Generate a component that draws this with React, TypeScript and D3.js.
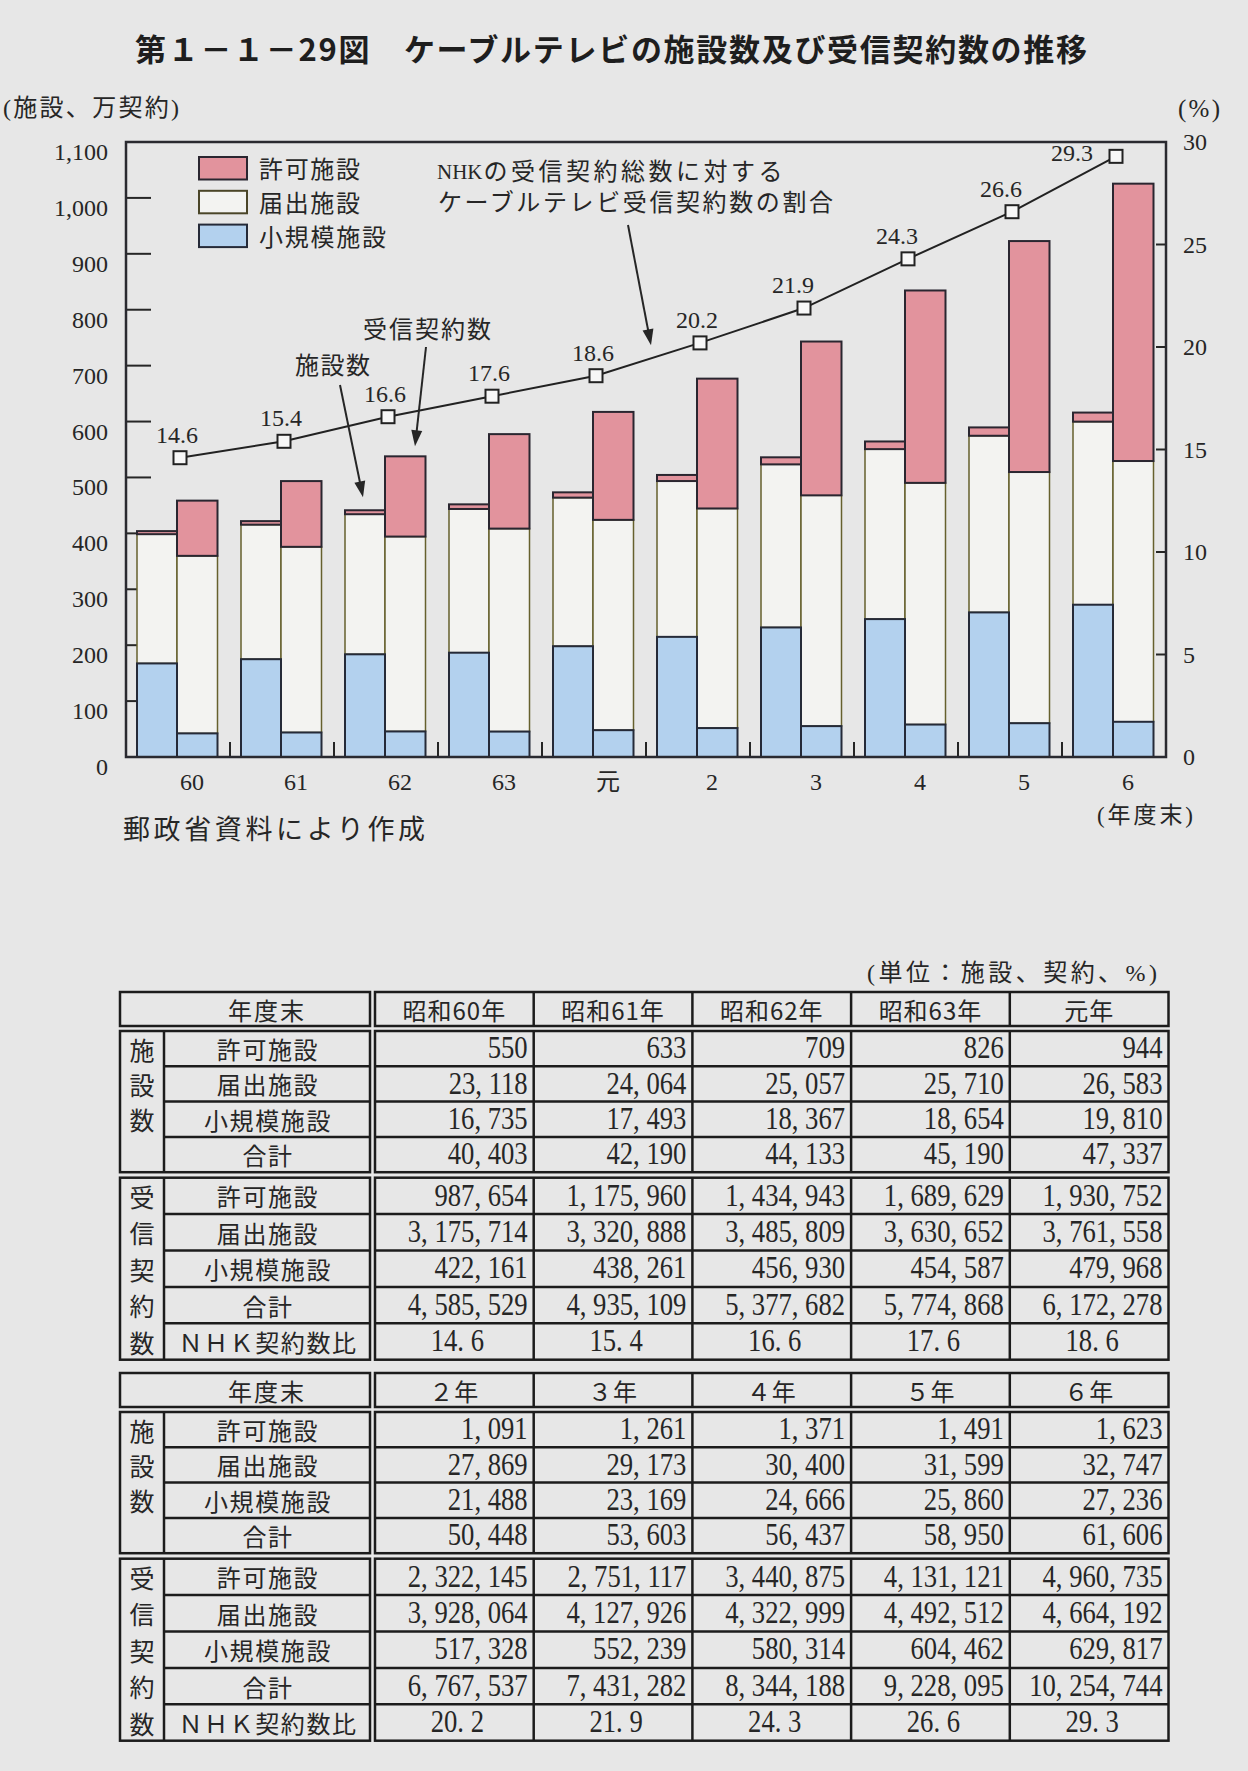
import React from "react";
import * as d3 from "d3";

// ---------- data ----------
const years = ["60", "61", "62", "63", "元", "2", "3", "4", "5", "6"];
const headers = ["昭和60年", "昭和61年", "昭和62年", "昭和63年", "元年", "２年", "３年", "４年", "５年", "６年"];

// 施設数
const facPermit = [550, 633, 709, 826, 944, 1091, 1261, 1371, 1491, 1623];
const facNotified = [23118, 24064, 25057, 25710, 26583, 27869, 29173, 30400, 31599, 32747];
const facSmall = [16735, 17493, 18367, 18654, 19810, 21488, 23169, 24666, 25860, 27236];
const facTotal = [40403, 42190, 44133, 45190, 47337, 50448, 53603, 56437, 58950, 61606];

// 受信契約数
const conPermit = [987654, 1175960, 1434943, 1689629, 1930752, 2322145, 2751117, 3440875, 4131121, 4960735];
const conNotified = [3175714, 3320888, 3485809, 3630652, 3761558, 3928064, 4127926, 4322999, 4492512, 4664192];
const conSmall = [422161, 438261, 456930, 454587, 479968, 517328, 552239, 580314, 604462, 629817];
const conTotal = [4585529, 4935109, 5377682, 5774868, 6172278, 6767537, 7431282, 8344188, 9228095, 10254744];

// NHK契約数比 (%)
const ratio = [14.6, 15.4, 16.6, 17.6, 18.6, 20.2, 21.9, 24.3, 26.6, 29.3];

const leftTicks = [0, 100, 200, 300, 400, 500, 600, 700, 800, 900, 1000, 1100];
const rightTicks = [0, 5, 10, 15, 20, 25, 30];
const seriesKeys = ["small", "notified", "permit"];
const seriesNames: Record<string, string> = { permit: "許可施設", notified: "届出施設", small: "小規模施設" };
const legendOrder = ["permit", "notified", "small"];
const facRowLabels = ["許可施設", "届出施設", "小規模施設", "合計"];
const conRowLabels = ["許可施設", "届出施設", "小規模施設", "合計", "ＮＨＫ契約数比"];
const facGroupChars = ["施", "設", "数"];
const conGroupChars = ["受", "信", "契", "約", "数"];

// ---------- style ----------
const W = 1248;
const H = 1771;
const BG = "#e7e7e7";
const INK = "#262626";
const FILL: Record<string, string> = { permit: "#e2939d", notified: "#f3f3f1", small: "#b3d1ee" };
const STROKE: Record<string, string> = { permit: "#2a2630", notified: "#66602e", small: "#252a38" };
const SERIF = "'Liberation Serif','Noto Sans CJK JP',serif";
const JP = "'Noto Sans CJK JP','Noto Sans',sans-serif";

function Arrow({ x1, y1, x2, y2 }: { x1: number; y1: number; x2: number; y2: number }) {
  const dx = x2 - x1;
  const dy = y2 - y1;
  const len = Math.sqrt(dx * dx + dy * dy);
  const ux = dx / len;
  const uy = dy / len;
  const hl = 16;
  const hw = 5.5;
  const bx = x2 - ux * hl;
  const by = y2 - uy * hl;
  return (
    <g>
      <line x1={x1} y1={y1} x2={bx + ux * 2} y2={by + uy * 2} stroke={INK} strokeWidth={2} />
      <polygon
        points={`${x2},${y2} ${bx - uy * hw},${by + ux * hw} ${bx + uy * hw},${by - ux * hw}`}
        fill={INK}
      />
    </g>
  );
}

// table geometry
const T = { l0: 120, l1: 164, l2: 370, d0: 375, d1: 1168.5, headH: 34, gap: 5, r1: 35.3, gap2: 5.5, r2: 36.4 };
const LINE = "#1c1c1c";
const LW = 2.5;

function NumText({ x, y, value, anchor }: { x: number; y: number; value: string; anchor: string }) {
  const fs = 31;
  const segs = (value.match(/[^,.]*[,.]?/g) || []).filter((s) => s.length > 0);
  return (
    <text
      transform={`translate(${x},${y}) scale(0.86,1)`}
      textAnchor={anchor}
      dominantBaseline="central"
      fontFamily={SERIF}
      fontSize={fs}
      fill={INK}
    >
      {segs.map((s, i) => (
        <tspan key={i} dx={i === 0 ? 0 : fs * 0.25}>
          {s}
        </tspan>
      ))}
    </text>
  );
}

function DataTable({ top, cols }: { top: number; cols: number[] }) {
  const cx = d3.scaleBand<number>().domain(d3.range(cols.length)).range([T.d0, T.d1]);
  const bw = cx.bandwidth();
  const b1 = top + T.headH + T.gap;
  const b2 = b1 + 4 * T.r1 + T.gap2;
  const fmt = d3.format(",");
  const facRows = [facPermit, facNotified, facSmall, facTotal];
  const conRows = [conPermit, conNotified, conSmall, conTotal];
  const labelCx = (T.l1 + T.l2) / 2;
  const groupCx = (T.l0 + T.l1) / 2;

  const block = (y0: number, rh: number, n: number) => (
    <g>
      <rect x={T.l0} y={y0} width={T.l2 - T.l0} height={rh * n} fill="none" stroke={LINE} strokeWidth={LW} />
      <line x1={T.l1} x2={T.l1} y1={y0} y2={y0 + rh * n} stroke={LINE} strokeWidth={LW} />
      {d3.range(1, n).map((k) => (
        <line key={"l" + k} x1={T.l1} x2={T.l2} y1={y0 + rh * k} y2={y0 + rh * k} stroke={LINE} strokeWidth={LW} />
      ))}
      <rect x={T.d0} y={y0} width={T.d1 - T.d0} height={rh * n} fill="none" stroke={LINE} strokeWidth={LW} />
      {d3.range(1, cols.length).map((j) => (
        <line key={"v" + j} x1={cx(j)} x2={cx(j)} y1={y0} y2={y0 + rh * n} stroke={LINE} strokeWidth={LW} />
      ))}
      {d3.range(1, n).map((k) => (
        <line key={"h" + k} x1={T.d0} x2={T.d1} y1={y0 + rh * k} y2={y0 + rh * k} stroke={LINE} strokeWidth={LW} />
      ))}
    </g>
  );

  return (
    <g>
      {/* header */}
      <rect x={T.l0} y={top} width={T.l2 - T.l0} height={T.headH} fill="none" stroke={LINE} strokeWidth={LW} />
      <rect x={T.d0} y={top} width={T.d1 - T.d0} height={T.headH} fill="none" stroke={LINE} strokeWidth={LW} />
      {d3.range(1, cols.length).map((j) => (
        <line key={"hv" + j} x1={cx(j)} x2={cx(j)} y1={top} y2={top + T.headH} stroke={LINE} strokeWidth={LW} />
      ))}
      <text x={labelCx} y={top + T.headH / 2} textAnchor="middle" dominantBaseline="central" fontFamily={JP} fontSize={24} letterSpacing={2} fill={INK}>
        年度末
      </text>
      {cols.map((c, j) => (
        <text key={"h" + j} x={(cx(j) as number) + bw / 2} y={top + T.headH / 2} textAnchor="middle" dominantBaseline="central" fontFamily={JP} fontSize={24} letterSpacing={1} fill={INK}>
          {headers[c]}
        </text>
      ))}

      {block(b1, T.r1, 4)}
      {block(b2, T.r2, 5)}

      {facGroupChars.map((ch, k) => (
        <text key={"fg" + k} x={groupCx} y={b1 + T.r1 * (k + 0.5)} textAnchor="middle" dominantBaseline="central" fontFamily={JP} fontSize={25} fill={INK}>
          {ch}
        </text>
      ))}
      {conGroupChars.map((ch, k) => (
        <text key={"cg" + k} x={groupCx} y={b2 + T.r2 * (k + 0.5)} textAnchor="middle" dominantBaseline="central" fontFamily={JP} fontSize={25} fill={INK}>
          {ch}
        </text>
      ))}
      {facRowLabels.map((lab, k) => (
        <text key={"fl" + k} x={labelCx + 1} y={b1 + T.r1 * (k + 0.5)} textAnchor="middle" dominantBaseline="central" fontFamily={JP} fontSize={24} letterSpacing={1.6} fill={INK}>
          {lab}
        </text>
      ))}
      {conRowLabels.map((lab, k) => (
        <text key={"cl" + k} x={labelCx + 1} y={b2 + T.r2 * (k + 0.5)} textAnchor="middle" dominantBaseline="central" fontFamily={JP} fontSize={24} letterSpacing={1.6} fill={INK}>
          {lab}
        </text>
      ))}

      {cols.map((c, j) =>
        facRows.map((row, k) => (
          <NumText key={`f${j}-${k}`} x={(cx(j) as number) + bw - 6} y={b1 + T.r1 * (k + 0.5) - 1} value={fmt(row[c])} anchor="end" />
        ))
      )}
      {cols.map((c, j) =>
        conRows.map((row, k) => (
          <NumText key={`c${j}-${k}`} x={(cx(j) as number) + bw - 6} y={b2 + T.r2 * (k + 0.5) - 1} value={fmt(row[c])} anchor="end" />
        ))
      )}
      {cols.map((c, j) => (
        <NumText key={`r${j}`} x={(cx(j) as number) + bw / 2 + 3} y={b2 + T.r2 * 4.5 - 1} value={ratio[c].toFixed(1)} anchor="middle" />
      ))}
    </g>
  );
}

export default function App() {
  const x = d3.scaleBand<string>().domain(years).range([126, 1166]);
  const yL = d3.scaleLinear().domain([0, 1100]).range([757, 142]);
  const yR = d3.scaleLinear().domain([0, 30]).range([757, 142]);

  const facData = years.map((yr, i) => ({ year: yr, permit: facPermit[i] / 100, notified: facNotified[i] / 100, small: facSmall[i] / 100 }));
  const conData = years.map((yr, i) => ({ year: yr, permit: conPermit[i] / 10000, notified: conNotified[i] / 10000, small: conSmall[i] / 10000 }));
  const stack = d3.stack<any>().keys(seriesKeys);
  const facStack = stack(facData);
  const conStack = stack(conData);

  const barW1 = 40;
  const barW2 = 40.5;
  const off1 = 11;
  const off2 = 51;
  const mx = (i: number) => (x(years[i]) as number) + 54;

  const linePath = d3
    .line<number>()
    .x((_, i) => mx(i))
    .y((d) => yR(d))(ratio) as string;

  const drawOrder = ["notified", "small", "permit"];
  const layerByKey = (st: any[], key: string) => st.find((s) => s.key === key);

  const labelPos = (i: number) => {
    if (i === ratio.length - 1) return { x: mx(i) - 23, y: yR(ratio[i]) - 3, anchor: "end" };
    if (i >= 6) return { x: mx(i) - 11, y: yR(ratio[i]) - 23, anchor: "middle" };
    return { x: mx(i) - 3, y: yR(ratio[i]) - 23, anchor: "middle" };
  };

  // arrow targets derived from data
  const facTip = { x: (x(years[2]) as number) + 29, y: yL(facTotal[2] / 100) - 13 };
  const conTip = { x: (x(years[2]) as number) + 81, y: yL(conTotal[2] / 10000) - 10 };
  const nhkTip = { x: (mx(4) + mx(5)) / 2 + 3, y: yR((ratio[4] + ratio[5]) / 2) - 14 };

  return (
    <div style={{ position: "absolute", left: 0, top: 0 }}>
      <svg width={W} height={H} viewBox={`0 0 ${W} ${H}`} style={{ display: "block" }}>
        <rect x={0} y={0} width={W} height={H} fill={BG} />

        {/* title */}
        <text x={135} y={47} dominantBaseline="central" fontFamily={JP} fontWeight={700} fontSize={31} textLength={952} lengthAdjust="spacing" fill="#1e1e1e">
          第１－１－29図　ケーブルテレビの施設数及び受信契約数の推移
        </text>

        {/* unit labels */}
        <text x={3} y={108} dominantBaseline="central" fontFamily={SERIF} fontSize={24} textLength={176} lengthAdjust="spacing" fill={INK}>
          (施設、万契約)
        </text>
        <text x={1178} y={108} dominantBaseline="central" fontFamily={SERIF} fontSize={25} textLength={42} lengthAdjust="spacing" fill={INK}>
          (%)
        </text>

        {/* inner ticks */}
        {leftTicks.filter((t) => t > 0 && t < 1100).map((t) => (
          <line key={"lt" + t} x1={126} x2={151} y1={yL(t)} y2={yL(t)} stroke={INK} strokeWidth={2} />
        ))}
        {rightTicks.filter((t) => t > 0 && t < 30).map((t) => (
          <line key={"rt" + t} x1={1156} x2={1166} y1={yR(t)} y2={yR(t)} stroke={INK} strokeWidth={2} />
        ))}
        {years.slice(1).map((yr) => (
          <line key={"bt" + yr} x1={x(yr)} x2={x(yr)} y1={757} y2={742} stroke={INK} strokeWidth={2} />
        ))}

        {/* bars */}
        {drawOrder.map((key) => {
          const fl = layerByKey(facStack, key);
          const cl = layerByKey(conStack, key);
          return (
            <g key={key}>
              {fl.map((d: any, i: number) => (
                <rect key={"f" + i} x={(x(years[i]) as number) + off1} y={yL(d[1])} width={barW1} height={yL(d[0]) - yL(d[1])} fill={FILL[key]} stroke={STROKE[key]} strokeWidth={key === "notified" ? 1.5 : 2} />
              ))}
              {cl.map((d: any, i: number) => (
                <rect key={"c" + i} x={(x(years[i]) as number) + off2} y={yL(d[1])} width={barW2} height={yL(d[0]) - yL(d[1])} fill={FILL[key]} stroke={STROKE[key]} strokeWidth={key === "notified" ? 1.5 : 2} />
              ))}
            </g>
          );
        })}

        {/* frame */}
        <rect x={126} y={142} width={1040} height={615} fill="none" stroke="#2a2a30" strokeWidth={2.5} />

        {/* left axis labels */}
        {leftTicks.map((t) => (
          <text key={"ll" + t} x={108} y={yL(t) + 10} textAnchor="end" dominantBaseline="central" fontFamily={SERIF} fontSize={24} fill={INK}>
            {d3.format(",")(t)}
          </text>
        ))}
        {/* right axis labels */}
        {rightTicks.map((t) => (
          <text key={"rl" + t} x={1183} y={yR(t)} textAnchor="start" dominantBaseline="central" fontFamily={SERIF} fontSize={24} fill={INK}>
            {t}
          </text>
        ))}
        {/* x labels */}
        {years.map((yr) => (
          <text key={"xl" + yr} x={(x(yr) as number) + 66} y={782} textAnchor="middle" dominantBaseline="central" fontFamily={SERIF} fontSize={24} fill={INK}>
            {yr}
          </text>
        ))}
        <text x={1097} y={815} dominantBaseline="central" fontFamily={SERIF} fontSize={23} textLength={96} lengthAdjust="spacing" fill={INK}>
          (年度末)
        </text>
        <text x={123} y={827} dominantBaseline="central" fontFamily={JP} fontSize={27} textLength={302} lengthAdjust="spacing" fill={INK}>
          郵政省資料により作成
        </text>

        {/* ratio line */}
        <path d={linePath} fill="none" stroke="#222" strokeWidth={2} />
        {ratio.map((v, i) => (
          <rect key={"m" + i} x={mx(i) - 6.5} y={yR(v) - 6.5} width={13} height={13} fill="#f7f7f7" stroke="#222" strokeWidth={2} />
        ))}
        {ratio.map((v, i) => {
          const p = labelPos(i);
          return (
            <text key={"rv" + i} x={p.x} y={p.y} textAnchor={p.anchor} dominantBaseline="central" fontFamily={SERIF} fontSize={24} fill={INK}>
              {v.toFixed(1)}
            </text>
          );
        })}

        {/* legend */}
        {legendOrder.map((key, k) => (
          <g key={"lg" + key}>
            <rect x={199} y={157 + k * 33.8} width={48} height={22.5} fill={FILL[key]} stroke={key === "notified" ? "#4a4528" : STROKE[key]} strokeWidth={2} />
            <text x={259} y={167 + k * 34} dominantBaseline="central" fontFamily={JP} fontSize={24} textLength={key === "small" ? 127 : 101} lengthAdjust="spacing" fill={INK}>
              {seriesNames[key]}
            </text>
          </g>
        ))}

        {/* annotations */}
        <text x={437} y={172} dominantBaseline="central" fontFamily={SERIF} fontSize={24} fill={INK}>
          <tspan fontSize={21}>NHK</tspan>
          <tspan letterSpacing={3.5} dx={1}>の受信契約総数に対する</tspan>
        </text>
        <text x={438} y={203} dominantBaseline="central" fontFamily={SERIF} fontSize={24} textLength={395} lengthAdjust="spacing" fill={INK}>
          ケーブルテレビ受信契約数の割合
        </text>
        <text x={363} y={327} dominantBaseline="central" fontFamily={JP} fontSize={24} textLength={128} lengthAdjust="spacing" fill={INK}>
          受信契約数
        </text>
        <text x={295} y={363} dominantBaseline="central" fontFamily={JP} fontSize={24} textLength={75} lengthAdjust="spacing" fill={INK}>
          施設数
        </text>
        <Arrow x1={628} y1={225} x2={nhkTip.x} y2={nhkTip.y} />
        <Arrow x1={426} y1={347} x2={conTip.x} y2={conTip.y} />
        <Arrow x1={340} y1={385} x2={facTip.x} y2={facTip.y} />

        {/* table */}
        <text x={867} y={973} dominantBaseline="central" fontFamily={SERIF} fontSize={24} textLength={290} lengthAdjust="spacing" fill={INK}>
          (単位：施設、契約、%)
        </text>
        <DataTable top={992} cols={[0, 1, 2, 3, 4]} />
        <DataTable top={1373} cols={[5, 6, 7, 8, 9]} />
      </svg>
    </div>
  );
}
